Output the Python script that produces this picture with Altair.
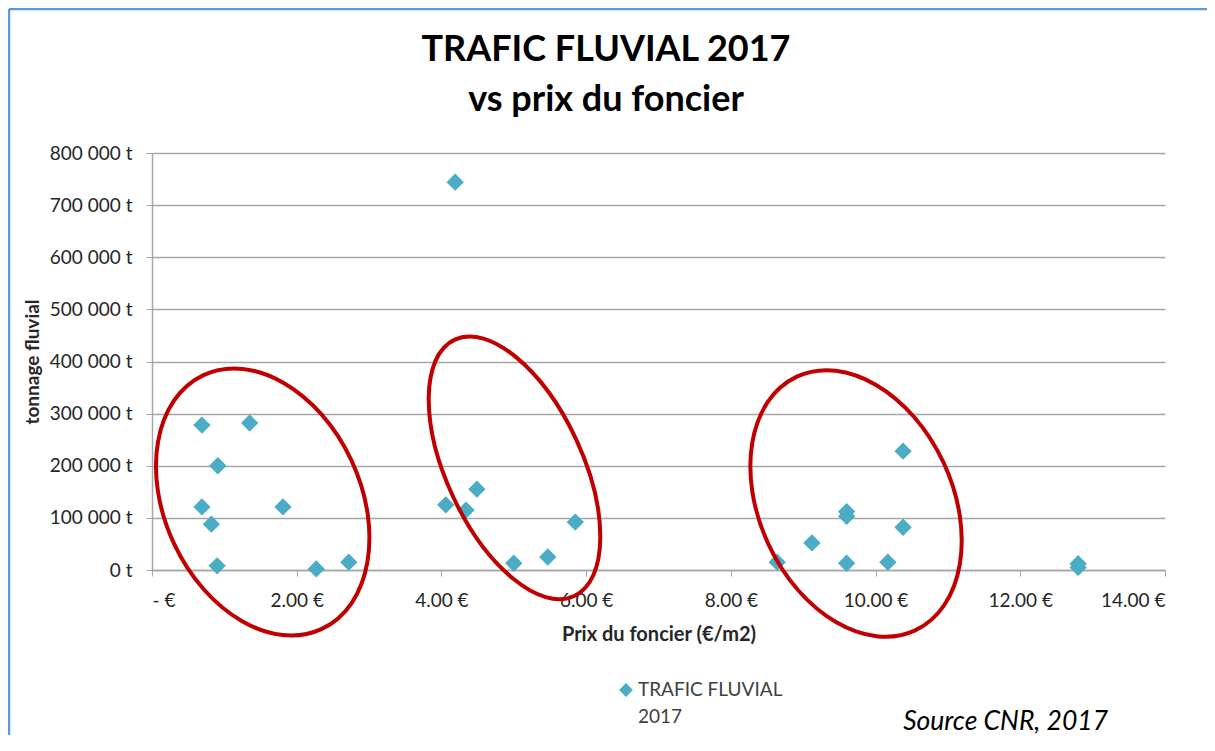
import altair as alt
import pandas as pd

# ---- data ----
prix = [0.69, 1.35, 0.91, 0.69, 0.82, 1.81, 0.90, 2.27, 2.72,
        4.19, 4.06, 4.34, 4.49, 5.00, 5.47, 5.85,
        8.64, 9.12, 9.60, 9.60, 9.60, 10.17, 10.38, 10.38,
        12.80, 12.80]
tonnage = [278000, 282000, 200000, 121000, 88000, 121000, 8000, 2000, 15000,
           744000, 125000, 115000, 155000, 13000, 25000, 92000,
           15000, 52000, 112000, 103000, 13000, 15000, 82000, 228000,
           12000, 5000]
series_name = "TRAFIC FLUVIAL 2017"

# annotation ellipses (centres in data units)
ellipse_x = [1.53, 5.01, 9.73]
ellipse_y = [130500, 196000, 127600]
ellipse_ratio = [0.70, 0.48, 0.69]

title_lines = ["TRAFIC FLUVIAL 2017", "vs prix du foncier"]
legend_lines = ["TRAFIC FLUVIAL", "2017"]
source_text = ["Source CNR, 2017"]

x_ticks = [0, 2, 4, 6, 8, 10, 12, 14]
y_ticks = [0, 100000, 200000, 300000, 400000, 500000, 600000, 700000, 800000]

FONT = "Lato"
BLUE = "#4bacc6"
RED = "#c00000"
W, H = 1013, 417

df = pd.DataFrame({"prix": prix, "tonnage": tonnage, "serie": series_name})

x_enc = alt.X("prix:Q", scale=alt.Scale(domain=[0, 14], nice=False),
              axis=alt.Axis(values=x_ticks, grid=False,
                            labelExpr="datum.value == 0 ? '-    €' : format(datum.value, '.2f') + ' €'",
                            labelFont=FONT, labelFontSize=19, labelColor="#262626",
                            labelPadding=15, tickSize=6, tickColor="#a6a6a6",
                            domainColor="#a6a6a6", domainWidth=1.5,
                            title="Prix du foncier (€/m2)", titleFont=FONT,
                            titleFontSize=20, titleFontWeight="bold", titleColor="#262626",
                            titleX=W / 2, titleY=70, titleBaseline="alphabetic"))
y_enc = alt.Y("tonnage:Q", scale=alt.Scale(domain=[0, 800000], nice=False),
              axis=alt.Axis(values=y_ticks, grid=True, gridColor="#a6a6a6", gridWidth=1.5,
                            labelExpr="replace(format(datum.value, ','), ',', ' ') + ' t'",
                            labelFont=FONT, labelFontSize=19, labelColor="#262626",
                            labelPadding=14, tickSize=6, tickColor="#a6a6a6",
                            domainColor="#a6a6a6", domainWidth=1.5,
                            title="tonnage fluvial", titleFont=FONT, titleFontSize=19,
                            titleFontWeight="bold", titleColor="#262626",
                            titleX=-120, titleY=H / 2, titleAngle=270,
                            titleAlign="center", titleBaseline="middle"))

points = alt.Chart(df).mark_point(shape="diamond", filled=True, size=300,
                                  opacity=1, color=BLUE).encode(x=x_enc, y=y_enc)

layers = [points]
for cx, cy, r in zip(ellipse_x, ellipse_y, ellipse_ratio):
    path = f"M0,-1 A{r},1 0 1,1 0,1 A{r},1 0 1,1 0,-1 Z"
    e = alt.Chart(pd.DataFrame({"prix": [cx], "tonnage": [cy]})).mark_point(
        shape=path, size=78400 if r > 0.6 else 80000, angle=335, filled=False,
        stroke=RED, strokeWidth=4, opacity=1
    ).encode(x=alt.X("prix:Q"), y=alt.Y("tonnage:Q"))
    layers.append(e)

# title
for i, line in enumerate(title_lines):
    t = alt.Chart(pd.DataFrame({"t": [line]})).mark_text(
        font=FONT, fontSize=36, fontWeight="bold", color="#000000",
        align="center", baseline="alphabetic"
    ).encode(x=alt.value(454), y=alt.value(-92 + 50 * i), text="t:N")
    layers.append(t)

# legend
leg_sym = alt.Chart(pd.DataFrame({"s": [series_name]})).mark_point(
    shape="diamond", filled=True, size=190, color=BLUE, opacity=1
).encode(x=alt.value(474), y=alt.value(537))
layers.append(leg_sym)
for i, line in enumerate(legend_lines):
    t = alt.Chart(pd.DataFrame({"t": [line]})).mark_text(
        font=FONT, fontSize=19, color="#404040", align="left", baseline="middle"
    ).encode(x=alt.value(486), y=alt.value(537 + 27 * i), text="t:N")
    layers.append(t)

# source
src = alt.Chart(pd.DataFrame({"t": source_text})).mark_text(
    font=FONT, fontSize=26.5, fontStyle="italic", color="#000000",
    align="right", baseline="middle"
).encode(x=alt.value(956), y=alt.value(569), text="t:N")
layers.append(src)

# frame (top and left edges visible)
frame_top = alt.Chart(pd.DataFrame({"k": [0]})).mark_rule(color="#5b9bd5", strokeWidth=2.5).encode(
    x=alt.value(-143), x2=alt.value(W + 42), y=alt.value(-144))
frame_left = alt.Chart(pd.DataFrame({"k": [0]})).mark_rule(color="#5b9bd5", strokeWidth=2.5).encode(
    x=alt.value(-143), y=alt.value(-144), y2=alt.value(H + 165))
layers += [frame_top, frame_left]

chart = alt.layer(*layers).properties(
    width=W, height=H,
    autosize=alt.AutoSizeParams(type="none"),
    padding={"left": 144, "top": 145, "right": 42, "bottom": 165},
    background="white",
).configure_view(stroke=None)

chart.save("out.html", embed_options={"renderer": "svg", "actions": False})
